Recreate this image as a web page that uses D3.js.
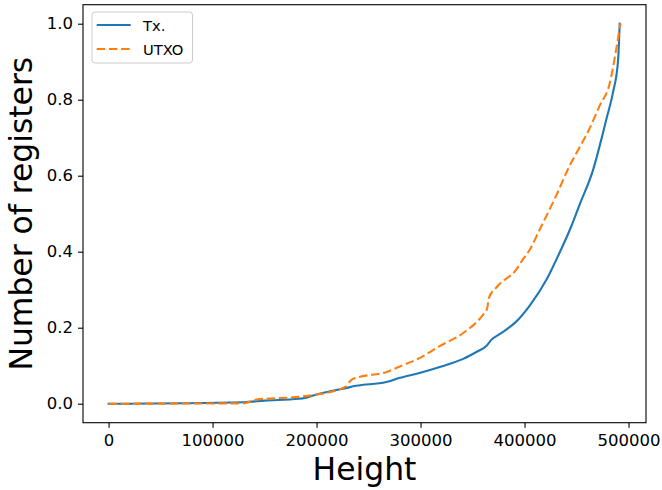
<!DOCTYPE html>
<html>
<head>
<meta charset="utf-8">
<script src="https://cdn.jsdelivr.net/npm/d3@7"></script>
<style>
  html, body { margin: 0; padding: 0; background: #fff; }
  svg { display: block; font-family: "DejaVu Sans", sans-serif; }
</style>
</head>
<body>
<svg id="chart" width="662" height="490"></svg>
<script>
// ---- data ----
const txHeight = [0, 130000, 150000, 183000, 190000, 200000, 228000, 238000, 267000, 280000, 299000, 320000, 341000, 355000, 363000, 368000, 376000, 384000, 392000, 405000, 421000, 435000, 445000, 453000, 466000, 475000, 479000, 485000, 490000, 491500];
const txValue  = [0, 0.004, 0.008, 0.013, 0.016, 0.024, 0.041, 0.047, 0.057, 0.068, 0.081, 0.098, 0.118, 0.138, 0.151, 0.168, 0.183, 0.198, 0.216, 0.258, 0.326, 0.405, 0.467, 0.524, 0.616, 0.708, 0.752, 0.818, 0.905, 1.0];

const utxoHeight = [0, 125000, 132000, 142000, 183000, 200000, 228000, 233500, 241000, 267000, 280000, 299000, 318000, 341000, 360000, 364000, 365700, 374000, 392000, 398500, 405000, 414500, 430000, 443000, 453000, 462000, 472000, 482000, 488000, 492200];
const utxoValue  = [0, 0.001, 0.002, 0.011, 0.018, 0.024, 0.045, 0.063, 0.070, 0.083, 0.098, 0.120, 0.151, 0.186, 0.234, 0.250, 0.278, 0.309, 0.353, 0.380, 0.405, 0.458, 0.545, 0.624, 0.675, 0.721, 0.783, 0.844, 0.930, 1.0];

const xTicks = [0, 100000, 200000, 300000, 400000, 500000];
const yTicks = [0.0, 0.2, 0.4, 0.6, 0.8, 1.0];
const seriesNames = ["Tx.", "UTXO"];
const seriesColors = ["#1f77b4", "#ff7f0e"];
const xLabel = "Height";
const yLabel = "Number of registers";

(function () {
// ---- layout ----
const svg = d3.select("#chart");
const mLeft = 83, mRight = 646, mTop = 4.7, mBottom = 422.7;

const allX = txHeight.concat(utxoHeight);
const allY = txValue.concat(utxoValue);
const xMin = d3.min(allX), xMax = d3.max(allX);
const yMin = d3.min(allY), yMax = d3.max(allY);
const xPad = (xMax - xMin) * 0.05, yPad = (yMax - yMin) * 0.05;

const x = d3.scaleLinear().domain([xMin - xPad, xMax + xPad]).range([mLeft, mRight]);
const y = d3.scaleLinear().domain([yMin - yPad, yMax + yPad]).range([mBottom, mTop]);

const series = [
  { name: seriesNames[0], color: seriesColors[0], dash: null,
    pts: txHeight.map((h, i) => [h, txValue[i]]) },
  { name: seriesNames[1], color: seriesColors[1], dash: "8.5,3.7",
    pts: utxoHeight.map((h, i) => [h, utxoValue[i]]) }
];

const line = d3.line().x(d => x(d[0])).y(d => y(d[1])).curve(d3.curveMonotoneX);

const plot = svg.append("g");
series.forEach(s => {
  plot.append("path")
    .datum(s.pts)
    .attr("d", line)
    .attr("fill", "none")
    .attr("stroke", s.color)
    .attr("stroke-width", 2.1)
    .attr("stroke-dasharray", s.dash)
    .attr("stroke-linecap", s.dash ? "butt" : "square");
});

// axes
const xAxis = svg.append("g")
  .attr("transform", `translate(0,${mBottom})`)
  .call(d3.axisBottom(x).tickValues(xTicks).tickFormat(d3.format("d")).tickSize(5).tickPadding(5).tickSizeOuter(0));
const yAxis = svg.append("g")
  .attr("transform", `translate(${mLeft},0)`)
  .call(d3.axisLeft(y).tickValues(yTicks).tickFormat(d3.format(".1f")).tickSize(5).tickPadding(5).tickSizeOuter(0));

[xAxis, yAxis].forEach(g => {
  g.select(".domain").remove();
  g.selectAll(".tick line").attr("stroke", "#000").attr("stroke-width", 1.1);
  g.selectAll(".tick text").attr("fill", "#000").attr("font-size", "16.5px")
    .attr("font-family", "DejaVu Sans, sans-serif");
});
xAxis.selectAll(".tick text").attr("dy", "0.78em");

// frame
svg.append("rect")
  .attr("x", mLeft).attr("y", mTop)
  .attr("width", mRight - mLeft).attr("height", mBottom - mTop)
  .attr("fill", "none").attr("stroke", "#000").attr("stroke-width", 1.1);

// axis labels
svg.append("text")
  .attr("x", (mLeft + mRight) / 2).attr("y", 480)
  .attr("text-anchor", "middle")
  .attr("font-size", "31.4px")
  .attr("fill", "#000")
  .text(xLabel);

svg.append("text")
  .attr("transform", `translate(32.3,${(mTop + mBottom) / 2}) rotate(-90)`)
  .attr("text-anchor", "middle")
  .attr("font-size", "31.4px")
  .attr("fill", "#000")
  .text(yLabel);

// legend
const lg = svg.append("g");
lg.append("rect")
  .attr("x", 92).attr("y", 12).attr("width", 100.5).attr("height", 51)
  .attr("rx", 3).attr("ry", 3)
  .attr("fill", "#fff").attr("fill-opacity", 0.8)
  .attr("stroke", "#cccccc").attr("stroke-width", 1);
series.forEach((s, i) => {
  const yy = 25 + i * 24;
  lg.append("line")
    .attr("x1", 96.7).attr("x2", 130.7).attr("y1", yy).attr("y2", yy)
    .attr("stroke", s.color).attr("stroke-width", 2.1)
    .attr("stroke-dasharray", s.dash);
  lg.append("text")
    .attr("x", 143).attr("y", yy + 5.5)
    .attr("font-size", "14.7px").attr("fill", "#000")
    .text(s.name);
});
})();
</script>
</body>
</html>
